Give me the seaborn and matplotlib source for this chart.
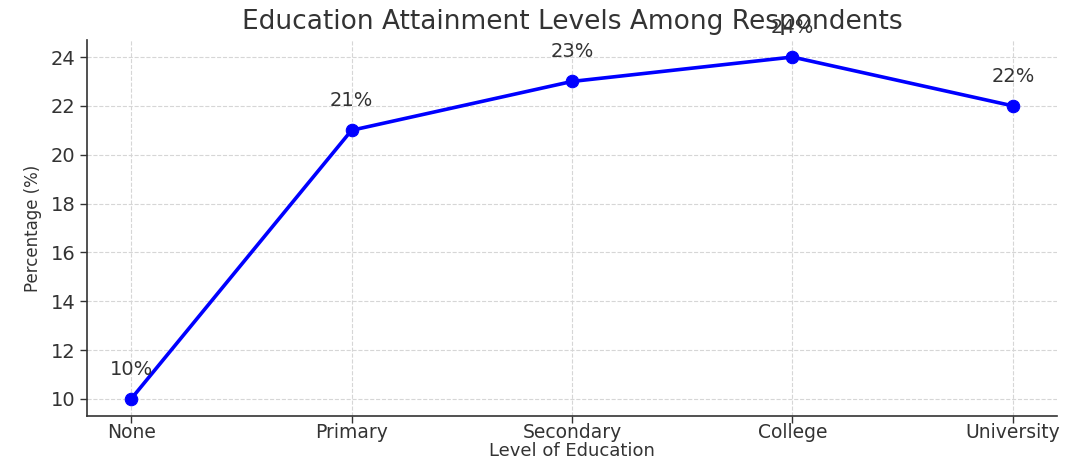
import matplotlib
matplotlib.use("Agg")
import matplotlib.pyplot as plt
import seaborn as sns
import pandas as pd

# Education attainment shares
levels = ["None", "Primary", "Secondary", "College", "University"]
percentages = [10, 21, 23, 24, 22]
yticks = [10, 12, 14, 16, 18, 20, 22, 24]

sns.set_theme(style="ticks")
plt.rcParams["font.family"] = ["DejaVu Sans"]

df = pd.DataFrame({"Level": levels, "Percentage": percentages})

fig = plt.figure(figsize=(10.78, 4.59), dpi=100)
ax = fig.add_axes([0.0807, 0.0935, 0.8998, 0.8195])

sns.lineplot(data=df, x="Level", y="Percentage", marker="o", color="#0000ff",
             linewidth=2.6, markersize=9, markeredgecolor="#0000ff", ax=ax,
             sort=False)

ax.margins(x=0.05, y=0.05)
ax.set_yticks(yticks)
ax.grid(True, linestyle="--", color="#d6d6d6", linewidth=0.8)
ax.set_axisbelow(True)

for i, v in enumerate(percentages):
    ax.annotate(f"{v}%", (i, v), textcoords="offset pixels", xytext=(0, 20),
                ha="center", va="bottom", fontsize=14, color="#333333")

text_color = "#333333"
ax.set_title("Education Attainment Levels Among Respondents", fontsize=19,
             color=text_color, pad=8)
ax.set_xlabel("Level of Education", fontsize=13, color=text_color, labelpad=0)
ax.set_ylabel("Percentage (%)", fontsize=12, color=text_color, labelpad=6)
ax.tick_params(axis="both", labelsize=14, colors=text_color, length=5,
               width=1, direction="out")
ax.tick_params(axis="x", pad=0, labelsize=13.5)

for side in ["top", "right"]:
    ax.spines[side].set_visible(False)
for side in ["left", "bottom"]:
    ax.spines[side].set_color("#333333")
    ax.spines[side].set_linewidth(1.2)

fig.savefig("out.png", dpi=100)
